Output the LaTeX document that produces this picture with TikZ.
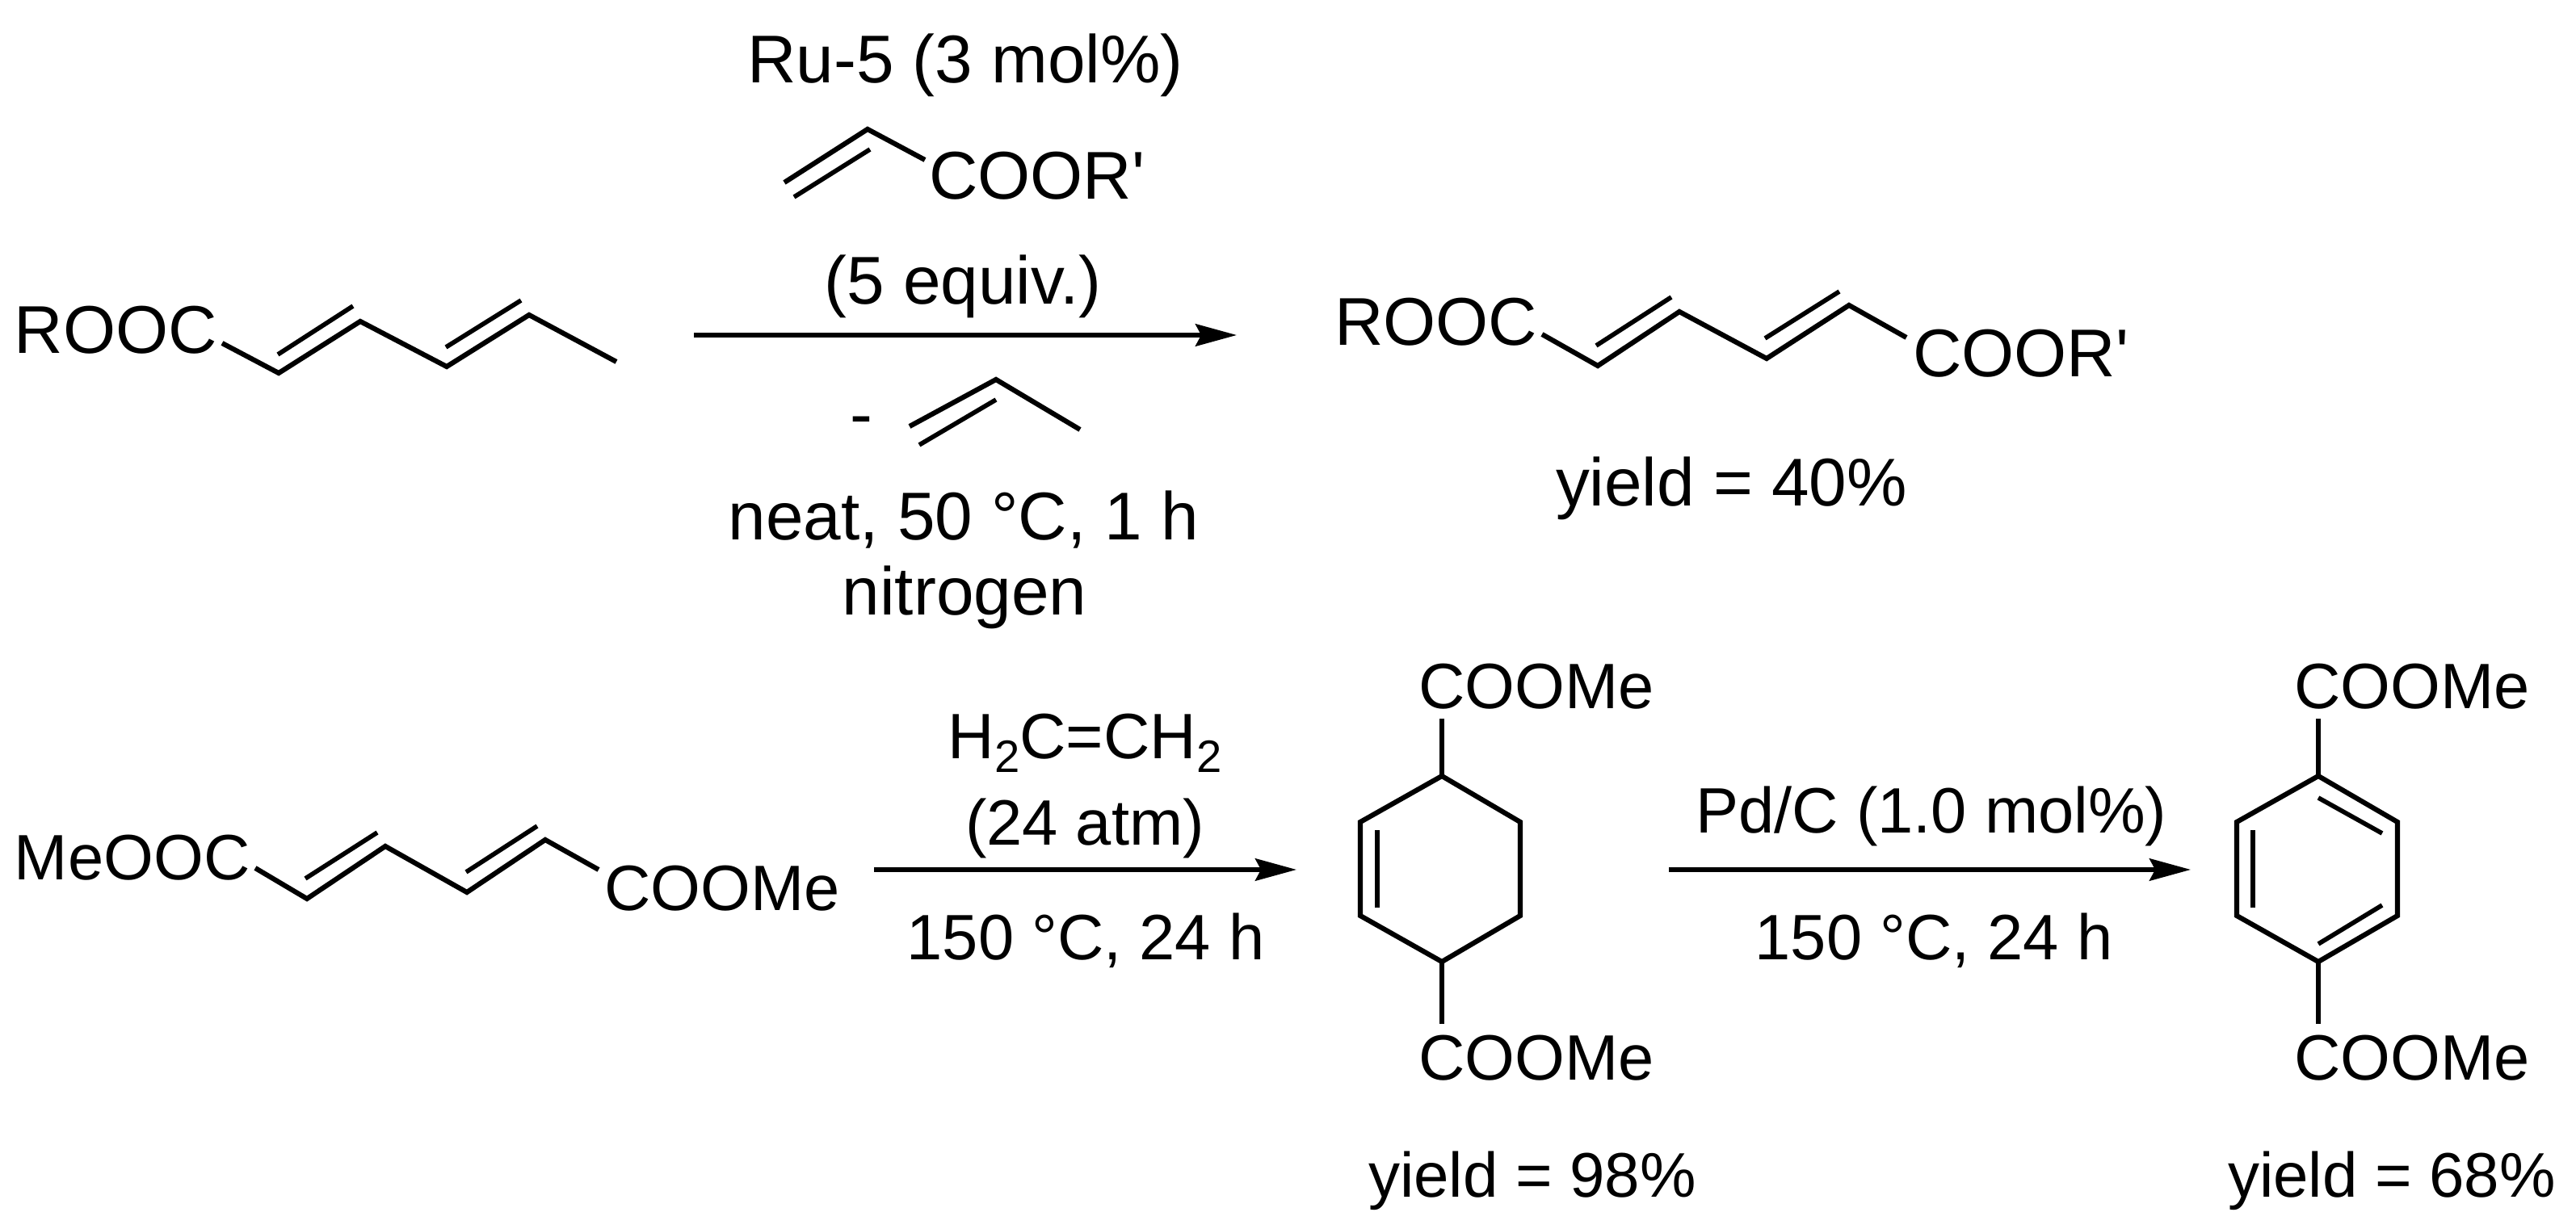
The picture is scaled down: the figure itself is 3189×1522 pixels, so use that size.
\documentclass[tikz,border=0pt]{standalone}
\usepackage{fontspec}
\newfontfamily\chemfont{Liberation Sans}
\usetikzlibrary{arrows.meta}
\newcommand{\subtwo}{\raisebox{-.21em}{\fontsize{16}{18}\selectfont 2}}
\tikzset{
  lbl/.style={inner sep=0pt,outer sep=0pt,anchor=base west,font=\chemfont\fontsize{23.8}{26}\selectfont},
  lblc/.style={lbl,anchor=base},
  lowlbl/.style={lbl,font=\chemfont\fontsize{22.6}{26}\selectfont},
  lowlblc/.style={lowlbl,anchor=base},
  yld/.style={lbl,font=\chemfont\fontsize{22.2}{26}\selectfont},
  bond/.style={line width=1.75pt,line join=miter,line cap=butt,black},
  inbond/.style={line width=1.6pt,line cap=butt,black},
  rxn/.style={line width=1.55pt,black,-{Stealth[length=14.5pt,width=7.8pt,inset=2pt]}},
}
\begin{document}
\begin{tikzpicture}[x=0.01cm,y=-0.01cm]
\useasboundingbox (0,0) rectangle (3189,1522);
% --- top reaction labels
\node[lblc] (ru) at (1195,103) {Ru-5 (3 mol\%)};
\node[lbl] (coorA) at (1150,247) {COOR'};
\node[lblc] (equiv) at (1192,377) {(5 equiv.)};
\node[lbl] (minus) at (1052,542) {-};
\node[lblc] (neat) at (1193,669) {neat, 50 °C, 1 h};
\node[lblc] (nitro) at (1194,762) {nitrogen};
\node[lbl] (rooc) at (18,438) {ROOC};
\node[lbl] (roocB) at (1652,428) {ROOC};
\node[lbl] (coorB) at (2368,467) {COOR'};
\node[lbl] (y40) at (1926,627) {yield = 40\%};
% --- bottom labels
\node[lowlbl] (meooc) at (18,1090) {MeOOC};
\node[lowlbl] (coomeA) at (748,1128) {COOMe};
\node[lowlblc] (ethene) at (1343,940) {H\subtwo C=CH\subtwo};
\node[lowlblc] (atm) at (1343,1047) {(24 atm)};
\node[lowlblc] (t1) at (1344,1189) {150 °C, 24 h};
\node[lowlbl] (coomeB) at (1756,878) {COOMe};
\node[lowlbl] (coomeC) at (1756,1337) {COOMe};
\node[yld] (y98) at (1694,1482) {yield = 98\%};
\node[lowlblc] (pd) at (2391,1032) {Pd/C (1.0 mol\%)};
\node[lowlblc] (t2) at (2394,1189) {150 °C, 24 h};
\node[lowlbl] (coomeD) at (2840,878) {COOMe};
\node[lowlbl] (coomeE) at (2840,1337) {COOMe};
\node[yld] (y68) at (2758,1482) {yield = 68\%};
% --- atoms: sorbate
\coordinate (a1) at (275,425); \coordinate (a2) at (345,462); \coordinate (a3) at (446,398);
\coordinate (a4) at (553,454); \coordinate (a5) at (655,390); \coordinate (a6) at (763,448);
\coordinate (a7) at (344,439); \coordinate (a8) at (437,379);
\coordinate (a9) at (552,430); \coordinate (a10) at (645,372);
\draw[bond] (a1)--(a2)--(a3)--(a4)--(a5)--(a6);
\draw[inbond] (a7)--(a8);
\draw[inbond] (a9)--(a10);
% --- acrylate
\coordinate (b1) at (971,226); \coordinate (b2) at (1074,160); \coordinate (b3) at (1145,198);
\coordinate (b4) at (983,244); \coordinate (b5) at (1077,185);
\draw[bond] (b1)--(b2)--(b3);
\draw[inbond] (b4)--(b5);
% --- propene
\coordinate (c1) at (1126,528); \coordinate (c2) at (1233,470); \coordinate (c3) at (1337,532);
\coordinate (c4) at (1138,551); \coordinate (c5) at (1233,495);
\draw[bond] (c1)--(c2)--(c3);
\draw[inbond] (c4)--(c5);
% --- product diene 1
\coordinate (d1) at (1909,414); \coordinate (d2) at (1978,453); \coordinate (d3) at (2079,386);
\coordinate (d4) at (2187,444); \coordinate (d5) at (2289,378); \coordinate (d6) at (2360,418);
\coordinate (d7) at (1976,428); \coordinate (d8) at (2069,368);
\coordinate (d9) at (2185,419); \coordinate (d10) at (2277,361);
\draw[bond] (d1)--(d2)--(d3)--(d4)--(d5)--(d6);
\draw[inbond] (d7)--(d8);
\draw[inbond] (d9)--(d10);
% --- muconate
\coordinate (e1) at (316,1075); \coordinate (e2) at (380,1113); \coordinate (e3) at (477,1048);
\coordinate (e4) at (578,1105); \coordinate (e5) at (675,1040); \coordinate (e6) at (741,1077);
\coordinate (e7) at (378,1088); \coordinate (e8) at (467,1031);
\coordinate (e9) at (577,1080); \coordinate (e10) at (665,1023);
\draw[bond] (e1)--(e2)--(e3)--(e4)--(e5)--(e6);
\draw[inbond] (e7)--(e8);
\draw[inbond] (e9)--(e10);
% --- cyclohexene
\coordinate (f1) at (1785,961); \coordinate (f2) at (1684,1018); \coordinate (f3) at (1684,1134);
\coordinate (f4) at (1785,1191); \coordinate (f5) at (1882,1134); \coordinate (f6) at (1882,1018);
\coordinate (f7) at (1785,890); \coordinate (f8) at (1785,1268);
\coordinate (f9) at (1705,1028); \coordinate (f10) at (1705,1124);
\draw[bond] (f1)--(f2)--(f3)--(f4)--(f5)--(f6)--cycle;
\draw[bond] (f7)--(f1);
\draw[bond] (f4)--(f8);
\draw[inbond] (f9)--(f10);
% --- terephthalate
\coordinate (g1) at (2870,961); \coordinate (g2) at (2769,1018); \coordinate (g3) at (2769,1134);
\coordinate (g4) at (2870,1191); \coordinate (g5) at (2968,1134); \coordinate (g6) at (2968,1018);
\coordinate (g7) at (2870,890); \coordinate (g8) at (2870,1268);
\coordinate (g9) at (2789,1028); \coordinate (g10) at (2789,1124);
\coordinate (g11) at (2870,988); \coordinate (g12) at (2949,1032);
\coordinate (g13) at (2949,1121); \coordinate (g14) at (2870,1169);
\draw[bond] (g1)--(g2)--(g3)--(g4)--(g5)--(g6)--cycle;
\draw[bond] (g7)--(g1);
\draw[bond] (g4)--(g8);
\draw[inbond] (g9)--(g10);
\draw[inbond] (g11)--(g12);
\draw[inbond] (g13)--(g14);
% --- reaction arrows
\coordinate (r1s) at (859,415); \coordinate (r1e) at (1531,415);
\coordinate (r2s) at (1082,1077); \coordinate (r2e) at (1605,1077);
\coordinate (r3s) at (2066,1077); \coordinate (r3e) at (2712,1077);
\draw[rxn] (r1s)--(r1e);
\draw[rxn] (r2s)--(r2e);
\draw[rxn] (r3s)--(r3e);
\end{tikzpicture}
\end{document}
